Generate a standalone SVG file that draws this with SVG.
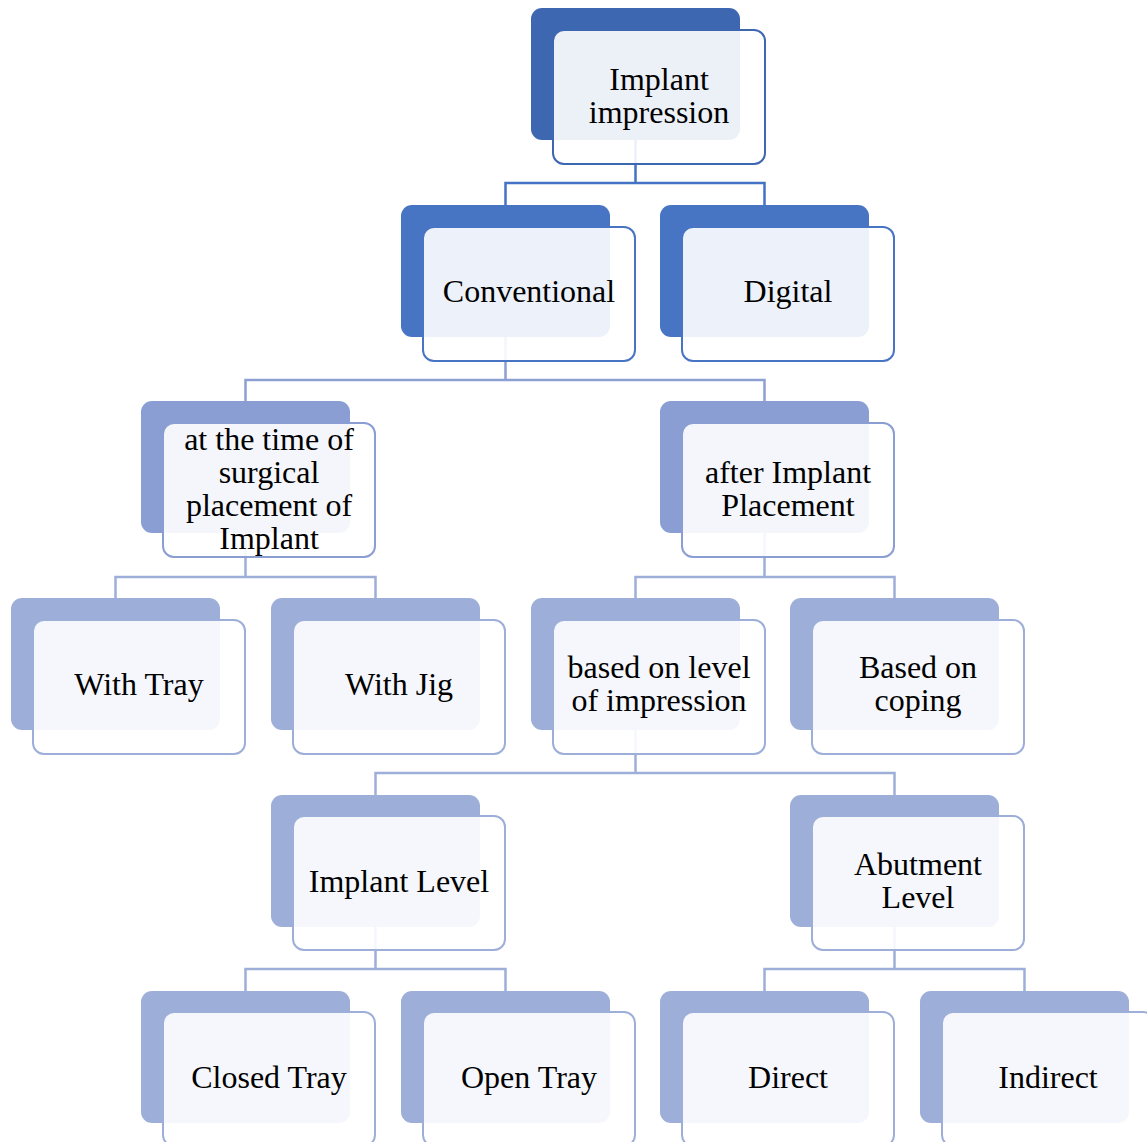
<svg xmlns="http://www.w3.org/2000/svg" width="1147" height="1142" viewBox="0 0 1147 1142">
<style>
.back{stroke:none}
.front{fill:#ffffff;fill-opacity:0.9;stroke-width:2}
.l0 .back{fill:#3E67B1}.l0 .front{stroke:#3E67B1}
.l1 .back{fill:#4875C3}.l1 .front{stroke:#4875C3}
.l2 .back{fill:#8A9ED3}.l2 .front{stroke:#8A9ED3}
.l3 .back{fill:#9DAED9}.l3 .front{stroke:#9DAED9}
text{font-family:"Liberation Serif","Times New Roman",serif;font-size:32px;fill:#000;text-anchor:middle}
.conn path{fill:none;stroke-width:2.5}
</style>
<rect width="1147" height="1142" fill="#ffffff"/>
<g id="connectors" class="conn">
<path d="M635.5 140V183M505.5 205V183H764.5V205" stroke="#4472C4"/>
<path d="M505.5 337V380M245.5 401V380H764.5V401" stroke="#8DA0D3"/>
<path d="M245.5 533V577M115.5 598V577H375.5V598" stroke="#9DAED9"/>
<path d="M764.5 533V577M635.5 598V577H894.5V598" stroke="#9DAED9"/>
<path d="M635.5 730V773M375.5 795V773H894.5V795" stroke="#9DAED9"/>
<path d="M375.5 927V969M245.5 991V969H505.5V991" stroke="#9DAED9"/>
<path d="M894.5 927V969M764.5 991V969H1024.5V991" stroke="#9DAED9"/>
</g>
<g id="n-implant-impression" class="l0">
<rect class="back" x="531" y="8" width="209" height="132" rx="11"/>
<rect class="front" x="553" y="30" width="212" height="134" rx="11"/>
<text x="659" y="90">Implant</text><text x="659" y="123">impression</text>
</g>
<g id="n-conventional" class="l1">
<rect class="back" x="401" y="205" width="209" height="132" rx="11"/>
<rect class="front" x="423" y="227" width="212" height="134" rx="11"/>
<text x="529" y="302">Conventional</text>
</g>
<g id="n-digital" class="l1">
<rect class="back" x="660" y="205" width="209" height="132" rx="11"/>
<rect class="front" x="682" y="227" width="212" height="134" rx="11"/>
<text x="788" y="302">Digital</text>
</g>
<g id="n-surgical" class="l2">
<rect class="back" x="141" y="401" width="209" height="132" rx="11"/>
<rect class="front" x="163" y="423" width="212" height="134" rx="11"/>
<text x="269" y="450">at the time of</text><text x="269" y="483">surgical</text><text x="269" y="516">placement of</text><text x="269" y="549">Implant</text>
</g>
<g id="n-after" class="l2">
<rect class="back" x="660" y="401" width="209" height="132" rx="11"/>
<rect class="front" x="682" y="423" width="212" height="134" rx="11"/>
<text x="788" y="483">after Implant</text><text x="788" y="516">Placement</text>
</g>
<g id="n-with-tray" class="l3">
<rect class="back" x="11" y="598" width="209" height="132" rx="11"/>
<rect class="front" x="33" y="620" width="212" height="134" rx="11"/>
<text x="139" y="695">With Tray</text>
</g>
<g id="n-with-jig" class="l3">
<rect class="back" x="271" y="598" width="209" height="132" rx="11"/>
<rect class="front" x="293" y="620" width="212" height="134" rx="11"/>
<text x="399" y="695">With Jig</text>
</g>
<g id="n-level" class="l3">
<rect class="back" x="531" y="598" width="209" height="132" rx="11"/>
<rect class="front" x="553" y="620" width="212" height="134" rx="11"/>
<text x="659" y="678">based on level</text><text x="659" y="711">of impression</text>
</g>
<g id="n-coping" class="l3">
<rect class="back" x="790" y="598" width="209" height="132" rx="11"/>
<rect class="front" x="812" y="620" width="212" height="134" rx="11"/>
<text x="918" y="678">Based on</text><text x="918" y="711">coping</text>
</g>
<g id="n-implant-level" class="l3">
<rect class="back" x="271" y="795" width="209" height="132" rx="11"/>
<rect class="front" x="293" y="816" width="212" height="134" rx="11"/>
<text x="399" y="892">Implant Level</text>
</g>
<g id="n-abutment-level" class="l3">
<rect class="back" x="790" y="795" width="209" height="132" rx="11"/>
<rect class="front" x="812" y="816" width="212" height="134" rx="11"/>
<text x="918" y="875">Abutment</text><text x="918" y="908">Level</text>
</g>
<g id="n-closed-tray" class="l3">
<rect class="back" x="141" y="991" width="209" height="132" rx="11"/>
<rect class="front" x="163" y="1012" width="212" height="134" rx="11"/>
<text x="269" y="1088">Closed Tray</text>
</g>
<g id="n-open-tray" class="l3">
<rect class="back" x="401" y="991" width="209" height="132" rx="11"/>
<rect class="front" x="423" y="1012" width="212" height="134" rx="11"/>
<text x="529" y="1088">Open Tray</text>
</g>
<g id="n-direct" class="l3">
<rect class="back" x="660" y="991" width="209" height="132" rx="11"/>
<rect class="front" x="682" y="1012" width="212" height="134" rx="11"/>
<text x="788" y="1088">Direct</text>
</g>
<g id="n-indirect" class="l3">
<rect class="back" x="920" y="991" width="209" height="132" rx="11"/>
<rect class="front" x="942" y="1012" width="212" height="134" rx="11"/>
<text x="1048" y="1088">Indirect</text>
</g>
</svg>
